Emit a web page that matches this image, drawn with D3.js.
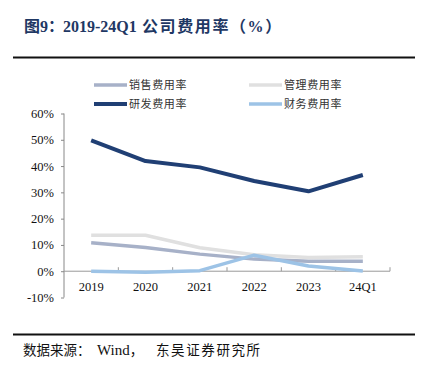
<!DOCTYPE html>
<html>
<head>
<meta charset="utf-8">
<script src="https://cdn.jsdelivr.net/npm/d3@7"></script>
<style>
  body { margin: 0; background: #fff; }
  svg { display: block; }
</style>
</head>
<body>
<div id="chart"></div>
<script>
// categories and series (percent)
const years = ["2019", "2020", "2021", "2022", "2023", "24Q1"];
const sales = [10.8, 9.0, 6.5, 4.6, 3.8, 3.8];     // 销售费用率
const admin = [13.7, 13.7, 8.9, 6.3, 5.2, 5.5];    // 管理费用率
const rnd = [49.8, 41.9, 39.5, 34.3, 30.4, 36.6];  // 研发费用率
const fin = [0.0, -0.4, 0.2, 6.1, 2.0, 0.1];       // 财务费用率
const yTicks = [-10, 0, 10, 20, 30, 40, 50, 60];

const series = [
    { name: "销售费用率", values: sales, color: "#a7b1c8", w: 3.5 },
    { name: "管理费用率", values: admin, color: "#e0e0e0", w: 3.5 },
    { name: "研发费用率", values: rnd, color: "#203f74", w: 4 },
    { name: "财务费用率", values: fin, color: "#9dc3e6", w: 3.5 }
];

const W = 426, H = 370;
const serif = "'Liberation Serif', 'Times New Roman', serif";
const cjk = "'Noto Sans CJK SC', sans-serif";

const svg = d3.select("#chart").append("svg")
    .attr("width", W).attr("height", H);

// title, pieces placed like the original's spacing
const title = svg.append("text")
    .attr("y", 32)
    .attr("fill", "#1f3864")
    .attr("font-weight", "bold")
    .attr("font-size", 16)
    .attr("font-family", serif + ", " + cjk);
title.append("tspan").attr("x", 24).text("图9：");
title.append("tspan").attr("x", 63).text("2019-24Q1");
title.append("tspan").attr("x", 142).attr("letter-spacing", 1.6).text("公司费用率（%）");

// top / bottom rules
svg.append("line").attr("x1", 13).attr("x2", 415).attr("y1", 57.5).attr("y2", 57.5)
    .attr("stroke", "#111").attr("stroke-width", 2);
svg.append("line").attr("x1", 13).attr("x2", 415).attr("y1", 334.5).attr("y2", 334.5)
    .attr("stroke", "#111").attr("stroke-width", 2);

// scales
const x = d3.scaleBand().domain(years).range([64, 390]);
const y = d3.scaleLinear().domain([-10, 60]).range([297.5, 113.5]);

// y axis
const yAxis = svg.append("g")
    .attr("transform", "translate(64,0)")
    .call(d3.axisLeft(y).tickValues(yTicks).tickSize(3).tickFormat(d => d + "%"));
yAxis.select(".domain").attr("stroke", "#888").attr("d", "M0," + y(60) + "V" + y(-10));
yAxis.selectAll(".tick line").attr("stroke", "#888");
yAxis.selectAll(".tick text")
    .attr("x", -10)
    .attr("font-family", serif).attr("font-size", 12.5).attr("fill", "#111");

// x axis at 0%
const xAxis = svg.append("g")
    .attr("transform", "translate(0," + y(0) + ")");
xAxis.append("line").attr("x1", 64).attr("x2", 390).attr("y1", 0).attr("y2", 0)
    .attr("stroke", "#999").attr("stroke-width", 1);
xAxis.selectAll("line.tk")
    .data(years)
    .join("line").attr("class", "tk")
    .attr("x1", d => x(d) + x.bandwidth())
    .attr("x2", d => x(d) + x.bandwidth())
    .attr("y1", 0).attr("y2", -4)
    .attr("stroke", "#999");
xAxis.selectAll("text")
    .data(years)
    .join("text")
    .attr("x", d => x(d) + x.bandwidth() / 2)
    .attr("y", 20)
    .attr("text-anchor", "middle")
    .attr("font-family", serif).attr("font-size", 12.5).attr("fill", "#111")
    .text(d => d);

// lines
const line = d3.line()
    .x((d, i) => x(years[i]) + x.bandwidth() / 2)
    .y(d => y(d));

svg.append("g").selectAll("path")
    .data(series)
    .join("path")
    .attr("d", d => line(d.values))
    .attr("fill", "none")
    .attr("stroke", d => d.color)
    .attr("stroke-width", d => d.w)
    .attr("stroke-linejoin", "round");

// legend
const legPos = [[94, 85], [249, 85], [94, 104], [249, 104]];
const leg = svg.append("g").selectAll("g")
    .data(series)
    .join("g")
    .attr("transform", (d, i) => "translate(" + legPos[i][0] + "," + legPos[i][1] + ")");
leg.append("line")
    .attr("x1", 0).attr("x2", 33).attr("y1", 0).attr("y2", 0)
    .attr("stroke", d => d.color).attr("stroke-width", d => d.w);
leg.append("text")
    .attr("x", 35).attr("y", 4)
    .attr("font-family", cjk).attr("font-size", 11).attr("letter-spacing", 0.6)
    .attr("fill", "#333")
    .text(d => d.name);

// source
const src = svg.append("text")
    .attr("y", 355)
    .attr("font-family", serif + ", " + cjk)
    .attr("font-size", 13.5).attr("fill", "#111");
src.append("tspan").attr("x", 23).text("数据来源：");
src.append("tspan").attr("x", 97).attr("font-size", 15).text("Wind");
src.append("tspan").text("，");
src.append("tspan").attr("x", 156).attr("letter-spacing", 1.6).text("东吴证券研究所");
</script>
</body>
</html>
